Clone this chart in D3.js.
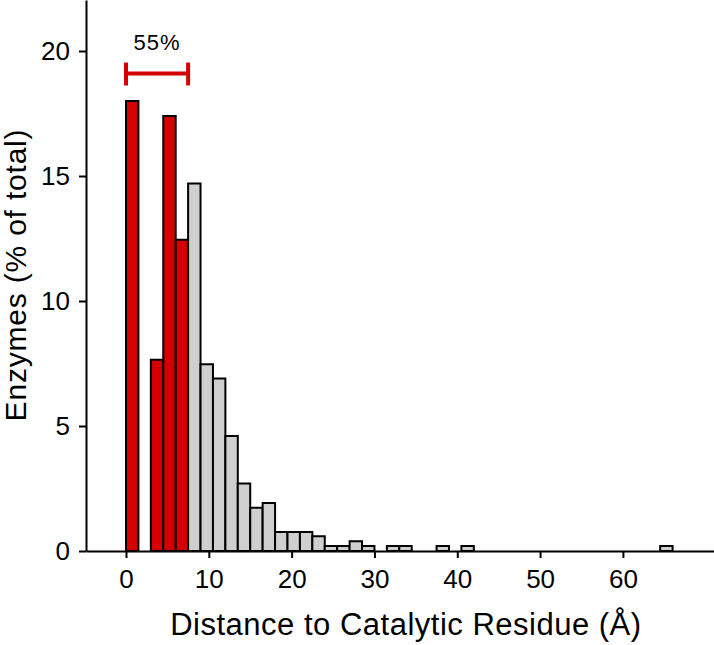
<!DOCTYPE html>
<html>
<head>
<meta charset="utf-8">
<script src="https://cdn.jsdelivr.net/npm/d3@7"></script>
<style>
  body { margin: 0; background: #fff; }
  svg { display: block; font-family: "Liberation Sans", Arial, sans-serif; }
</style>
</head>
<body>
<div id="chart"></div>
<script>
// histogram bins (Å), width 1.5
const binStarts = [0, 1.5, 3, 4.5, 6, 7.5, 9, 10.5, 12, 13.5, 15, 16.5, 18, 19.5, 21, 22.5,
  24, 25.5, 27, 28.5, 30, 31.5, 33, 34.5, 36, 37.5, 39, 40.5, 42, 43.5, 45, 46.5, 48, 49.5,
  51, 52.5, 54, 55.5, 57, 58.5, 60, 61.5, 63, 64.5];
const binWidth = 1.5;
const percents = [18.0, 0, 7.65, 17.4, 12.45, 14.7, 7.47, 6.9, 4.6, 2.7, 1.73, 1.92, 0.76, 0.76,
  0.76, 0.59, 0.2, 0.2, 0.39, 0.2, 0, 0.2, 0.2, 0, 0, 0.2, 0, 0.2, 0, 0, 0, 0, 0, 0,
  0, 0, 0, 0, 0, 0, 0, 0, 0, 0.2];
const highlightMax = 7.5;   // bins below this are red
const bracketLabel = '55%';
const xTicks = [0, 10, 20, 30, 40, 50, 60];
const yTicks = [0, 5, 10, 15, 20];

const W = 714, H = 645;
const margin = { top: 0, right: 0, bottom: 94, left: 86 };
const width = W - margin.left - margin.right;
const height = H - margin.top - margin.bottom;

const svg = d3.select('#chart')
  .append('svg')
  .attr('width', W)
  .attr('height', H)
  .append('g')
  .attr('transform', `translate(${margin.left},${margin.top})`);

const x = d3.scaleLinear().domain([-4.83, 71]).range([0, width]);
const y = d3.scaleLinear().domain([0, 22.04]).range([height, 0]);

const data = binStarts.map((s, i) => ({ x0: s, x1: s + binWidth, v: percents[i] }))
  .filter(d => d.v > 0);

// bars
svg.selectAll('rect.bar')
  .data(data)
  .enter()
  .append('rect')
  .attr('class', 'bar')
  .attr('x', d => x(d.x0))
  .attr('y', d => y(d.v))
  .attr('width', d => x(d.x1) - x(d.x0))
  .attr('height', d => y(0) - y(d.v))
  .attr('fill', d => d.x1 <= highlightMax ? '#d40000' : '#cfcfcf')
  .attr('stroke', '#000')
  .attr('stroke-width', 2);

// axes
const xAxis = svg.append('g')
  .attr('transform', `translate(0,${height})`)
  .call(d3.axisBottom(x).tickValues(xTicks).tickSize(7).tickPadding(12).tickSizeOuter(0));
const yAxis = svg.append('g')
  .call(d3.axisLeft(y).tickValues(yTicks).tickSize(7).tickPadding(9).tickSizeOuter(0));

[xAxis, yAxis].forEach(a => {
  a.select('.domain').attr('stroke-width', 2);
  a.selectAll('.tick line').attr('stroke-width', 2);
  a.selectAll('.tick text').attr('font-size', 26).attr('fill', '#000')
    .attr('font-family', '"Liberation Sans", Arial, sans-serif');
});

// axis titles
svg.append('text')
  .attr('x', x(33.8))
  .attr('y', height + 84)
  .attr('text-anchor', 'middle')
  .attr('font-size', 31)
  .attr('letter-spacing', 0.5)
  .text('Distance to Catalytic Residue (Å)');

svg.append('text')
  .attr('transform', `translate(${-60},${y(11.04)}) rotate(-90)`)
  .attr('text-anchor', 'middle')
  .attr('font-size', 30)
  .attr('letter-spacing', 0.8)
  .text('Enzymes (% of total)');

// bracket for the highlighted range
const by = y(19.1);
const bracket = svg.append('g').attr('stroke', '#d40000').attr('stroke-width', 4);
bracket.append('line').attr('x1', x(0)).attr('x2', x(highlightMax)).attr('y1', by).attr('y2', by);
bracket.append('line').attr('x1', x(0)).attr('x2', x(0)).attr('y1', by - 11).attr('y2', by + 12);
bracket.append('line').attr('x1', x(highlightMax)).attr('x2', x(highlightMax)).attr('y1', by - 11).attr('y2', by + 12);

svg.append('text')
  .attr('x', x(highlightMax / 2))
  .attr('y', by - 24)
  .attr('text-anchor', 'middle')
  .attr('font-size', 22)
  .attr('letter-spacing', 1)
  .text(bracketLabel);
</script>
</body>
</html>
